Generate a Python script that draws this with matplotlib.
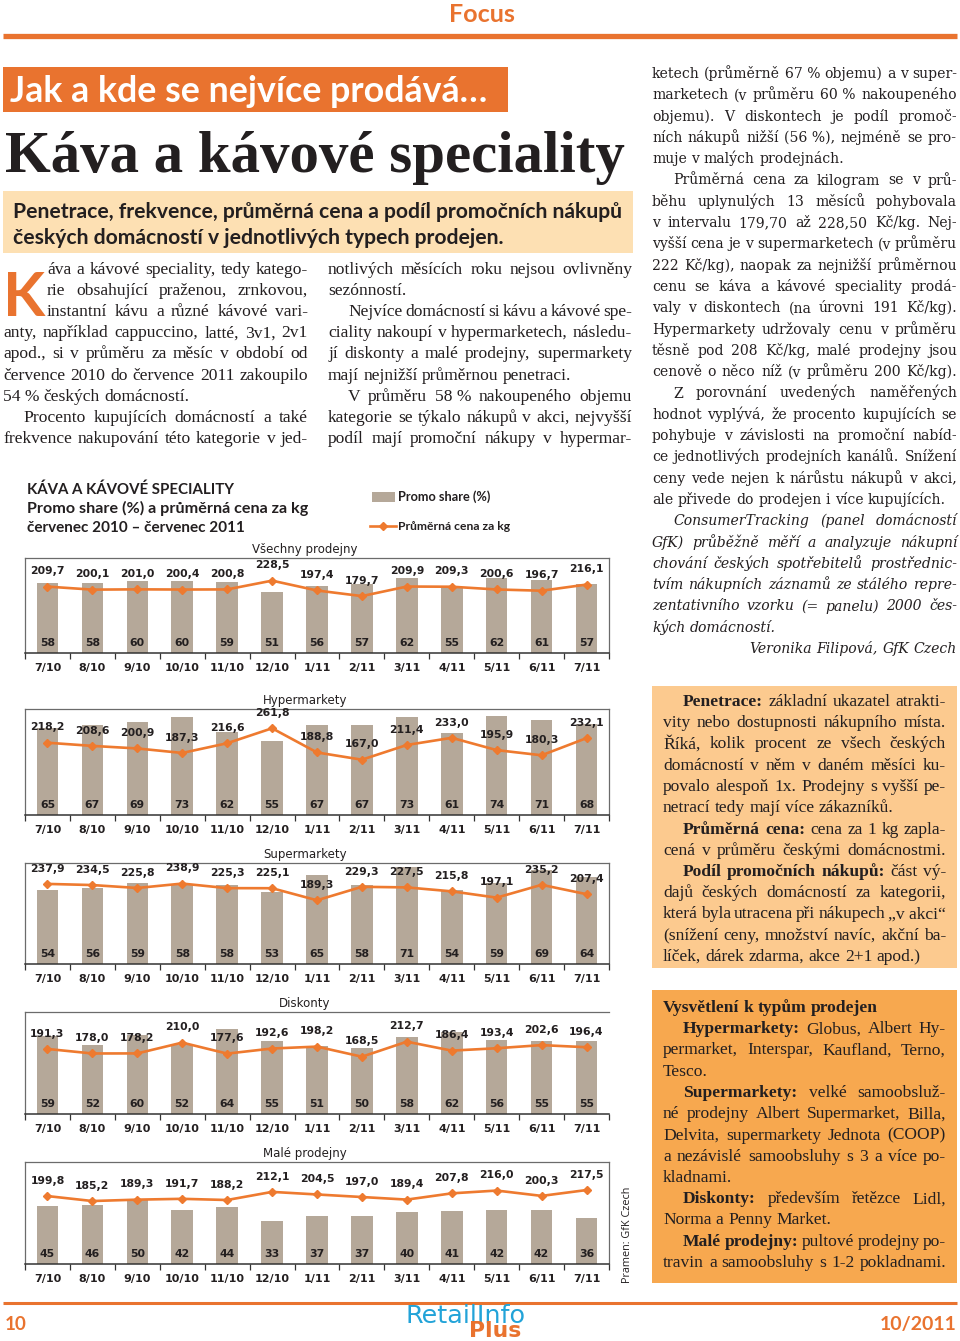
import matplotlib
matplotlib.use('Agg')
import matplotlib.pyplot as plt
from matplotlib.patches import Rectangle
from matplotlib.lines import Line2D
import numpy as np

# ---------------- data ----------------
months = ['7/10', '8/10', '9/10', '10/10', '11/10', '12/10', '1/11',
          '2/11', '3/11', '4/11', '5/11', '6/11', '7/11']

all_promo = [58, 58, 60, 60, 59, 51, 56, 57, 62, 55, 62, 61, 57]
all_price = [209.7, 200.1, 201.0, 200.4, 200.8, 228.5, 197.4, 179.7, 209.9, 209.3, 200.6, 196.7, 216.1]

hyper_promo = [65, 67, 69, 73, 62, 55, 67, 67, 73, 61, 74, 71, 68]
hyper_price = [218.2, 208.6, 200.9, 187.3, 216.6, 261.8, 188.8, 167.0, 211.4, 233.0, 195.9, 180.3, 232.1]

super_promo = [54, 56, 59, 58, 58, 53, 65, 58, 71, 54, 59, 69, 64]
super_price = [237.9, 234.5, 225.8, 238.9, 225.3, 225.1, 189.3, 229.3, 227.5, 215.8, 197.1, 235.2, 207.4]

disk_promo = [59, 52, 60, 52, 64, 55, 51, 50, 58, 62, 56, 55, 55]
disk_price = [191.3, 178.0, 178.2, 210.0, 177.6, 192.6, 198.2, 168.5, 212.7, 186.4, 193.4, 202.6, 196.4]

male_promo = [45, 46, 50, 42, 44, 33, 37, 37, 40, 41, 42, 42, 36]
male_price = [199.8, 185.2, 189.3, 191.7, 188.2, 212.1, 204.5, 197.0, 189.4, 207.8, 216.0, 200.3, 217.5]

chart_titles = ['Všechny prodejny', 'Hypermarkety', 'Supermarkety', 'Diskonty', 'Malé prodejny']
legend_labels = ['Promo share (%)', 'Průměrná cena za kg']

# ---------------- setup ----------------
W, H = 960, 1341
fig = plt.figure(figsize=(W / 100, H / 100), dpi=100)
fig.patch.set_facecolor('white')
R = fig.canvas.get_renderer()

ORANGE = '#e9732f'
LINE_OR = '#ee7a2f'
BAR = '#b5a899'
TXT = '#231f20'
SERIF = 'Liberation Serif'
SERIF2 = 'DejaVu Serif'
SANS = 'Lato'
NARROW = ['Liberation Sans Narrow', 'Lato']


def T(x, y, s, **kw):
    kw.setdefault('va', 'baseline')
    return fig.text(x / W, 1 - y / H, s, **kw)


def wid(t):
    return t.get_window_extent(renderer=R).width


def fit(x, y, s, target, size0=20, **kw):
    t = T(x, y, s, fontsize=size0, **kw)
    t.set_fontsize(size0 * target / wid(t))
    return t


def rect(x0, y0, x1, y1, color):
    fig.add_artist(Rectangle((x0 / W, 1 - y1 / H), (x1 - x0) / W, (y1 - y0) / H,
                             transform=fig.transFigure, facecolor=color,
                             edgecolor='none', zorder=0))


def hline(x0, x1, y, lw, color, **kw):
    fig.add_artist(Line2D([x0 / W, x1 / W], [1 - y / H] * 2, transform=fig.transFigure,
                          color=color, lw=lw, **kw))


def prep(segs):
    if isinstance(segs, str):
        segs = [(segs, 'normal')]
    words = []
    for s, wgt in segs:
        for w in s.split(' '):
            if w:
                words.append((w, wgt))
    return words


def space_w(size, family, style):
    a = T(0, 0, 'a a', fontsize=size, family=family, fontstyle=style)
    b = T(0, 0, 'aa', fontsize=size, family=family, fontstyle=style)
    s = wid(a) - wid(b)
    a.remove(); b.remove()
    return s


def unpack(ln):
    segs, off, just = ln[0], ln[1], ln[2]
    style = ln[3] if len(ln) > 3 else 'normal'
    return segs, off, just, style


def layout(x0, x1, y, segs, size, family, justify, style='normal', color=TXT, min_gap=0.7):
    words = prep(segs)
    objs = [T(x0, y, w, fontsize=size, family=family, fontweight=wgt,
              fontstyle=style, color=color) for w, wgt in words]
    ws = [wid(o) for o in objs]
    space = space_w(size, family, style)
    n = len(objs)
    avail = x1 - x0
    if justify is True and n > 1:
        need = sum(ws) + min_gap * space * (n - 1)
        if need > avail:
            f = avail / need
            for o in objs:
                o.set_fontsize(size * f)
            ws = [w * f for w in ws]
            space *= f
        gap = (avail - sum(ws)) / (n - 1)
    else:
        gap = space
    x = x0
    if justify == 'right':
        x = x1 - (sum(ws) + gap * (n - 1))
    for o, w in zip(objs, ws):
        o.set_x(x / W)
        x += w + gap


def block(lines, x0, x1, y0, dy, size, family):
    for i, ln in enumerate(lines):
        segs, off, just, style = unpack(ln)
        layout(x0 + off, x1, y0 + i * dy, segs, size, family, just, style)


# ---------------- header ----------------
fit(482, 22, 'Focus', 66, ha='center', family=SANS, fontweight='bold', color=ORANGE)
hline(3, 957, 36, 3.8, ORANGE, solid_capstyle='butt')

rect(3, 67, 508, 112, ORANGE)
fit(10, 102, 'Jak a kde se nejvíce prodává…', 477, family=SANS, fontweight='bold', color='white')

fit(5, 172, 'Káva a kávové speciality', 620, family=SERIF, fontweight='bold', color=TXT)

rect(3, 191, 633, 253, '#fde0b3')
t1 = fit(13, 218, 'Penetrace, frekvence, průměrná cena a podíl promočních nákupů', 609,
         family=SANS, fontweight='bold', color=TXT)
T(13, 244, 'českých domácností v jednotlivých typech prodejen.', fontsize=t1.get_fontsize(),
  family=SANS, fontweight='bold', color=TXT)

# ---------------- body text ----------------
fit(3, 316, 'K', 42, family=NARROW, fontweight='bold', color=ORANGE)

col1 = [
    ("áva a kávové speciality, tedy katego-", 44, True),
    ("rie obsahující praženou, zrnkovou,", 44, True),
    ("instantní kávu a různé kávové vari-", 44, True),
    ("anty, například cappuccino, latté, 3v1, 2v1", 0, True),
    ("apod., si v průměru za měsíc v období od", 0, True),
    ("července 2010 do července 2011 zakoupilo", 0, True),
    ("54\u00a0% českých domácností.", 0, False),
    ("Procento kupujících domácností a také", 20, True),
    ("frekvence nakupování této kategorie v jed-", 0, True),
]
col2 = [
    ("notlivých měsících roku nejsou ovlivněny", 0, True),
    ("sezónností.", 0, False),
    ("Nejvíce domácností si kávu a kávové spe-", 20, True),
    ("ciality nakoupí v hypermarketech, následu-", 0, True),
    ("jí diskonty a malé prodejny, supermarkety", 0, True),
    ("mají nejnižší průměrnou penetraci.", 0, False),
    ("V průměru 58\u00a0% nakoupeného objemu", 20, True),
    ("kategorie se týkalo nákupů v akci, nejvyšší", 0, True),
    ("podíl mají promoční nákupy v hypermar-", 0, True),
]
block(col1, 3, 308, 274, 21.1, 12.6, SERIF)
block(col2, 328, 632, 274, 21.1, 12.6, SERIF)

col3 = [
    ("ketech (průměrně 67\u00a0% objemu) a v super-", 0, True),
    ("marketech (v průměru 60\u00a0% nakoupeného", 0, True),
    ("objemu). V diskontech je podíl promoč-", 0, True),
    ("ních nákupů nižší (56\u00a0%), nejméně se pro-", 0, True),
    ("muje v malých prodejnách.", 0, False),
    ("Průměrná cena za kilogram se v prů-", 21, True),
    ("běhu uplynulých 13 měsíců pohybovala", 0, True),
    ("v intervalu 179,70 až 228,50 Kč/kg. Nej-", 0, True),
    ("vyšší cena je v supermarketech (v průměru", 0, True),
    ("222 Kč/kg), naopak za nejnižší průměrnou", 0, True),
    ("cenu se káva a kávové speciality prodá-", 0, True),
    ("valy v diskontech (na úrovni 191 Kč/kg).", 0, True),
    ("Hypermarkety udržovaly cenu v průměru", 0, True),
    ("těsně pod 208 Kč/kg, malé prodejny jsou", 0, True),
    ("cenově o něco níž (v průměru 200 Kč/kg).", 0, True),
    ("Z porovnání uvedených naměřených", 21, True),
    ("hodnot vyplývá, že procento kupujících se", 0, True),
    ("pohybuje v závislosti na promoční nabíd-", 0, True),
    ("ce jednotlivých prodejních kanálů. Snížení", 0, True),
    ("ceny vede nejen k nárůstu nákupů v akci,", 0, True),
    ("ale přivede do prodejen i více kupujících.", 0, False),
    ("ConsumerTracking (panel domácností", 21, True, 'italic'),
    ("GfK) průběžně měří a analyzuje nákupní", 0, True, 'italic'),
    ("chování českých spotřebitelů prostřednic-", 0, True, 'italic'),
    ("tvím nákupních záznamů ze stálého repre-", 0, True, 'italic'),
    ("zentativního vzorku (= panelu) 2000 čes-", 0, True, 'italic'),
    ("kých domácností.", 0, False, 'italic'),
    ("Veronika Filipová, GfK Czech", 0, 'right', 'italic'),
]
block(col3, 652, 957, 78, 21.3, 10.1, SERIF2)

# boxes
rect(652, 686, 957, 968, '#fcca8f')
box1 = [
    ([("Penetrace:", 'bold'), ("základní ukazatel atrakti-", 'normal')], 20, True),
    ("vity nebo dostupnosti nákupního místa.", 0, True),
    ("Říká, kolik procent ze všech českých", 0, True),
    ("domácností v něm v daném měsíci ku-", 0, True),
    ("povalo alespoň 1x. Prodejny s vyšší pe-", 0, True),
    ("netrací tedy mají více zákazníků.", 0, False),
    ([("Průměrná cena:", 'bold'), ("cena za 1 kg zapla-", 'normal')], 20, True),
    ("cená v průměru českými domácnostmi.", 0, True),
    ([("Podíl promočních nákupů:", 'bold'), ("část vý-", 'normal')], 20, True),
    ("dajů českých domácností za kategorii,", 0, True),
    ("která byla utracena při nákupech „v\u00a0akci“", 0, True),
    ("(snížení ceny, množství navíc, akční ba-", 0, True),
    ("líček, dárek zdarma, akce 2+1 apod.)", 0, False),
]
rect(652, 990, 957, 1283, '#f7a84f')
box2 = [
    ([("Vysvětlení k typům prodejen", 'bold')], 0, False),
    ([("Hypermarkety:", 'bold'), ("Globus, Albert Hy-", 'normal')], 20, True),
    ("permarket, Interspar, Kaufland, Terno,", 0, True),
    ("Tesco.", 0, False),
    ([("Supermarkety:", 'bold'), ("velké samoobsluž-", 'normal')], 20, True),
    ("né prodejny Albert Supermarket, Billa,", 0, True),
    ("Delvita, supermarkety Jednota (COOP)", 0, True),
    ("a nezávislé samoobsluhy s 3 a více po-", 0, True),
    ("kladnami.", 0, False),
    ([("Diskonty:", 'bold'), ("především řetězce Lidl,", 'normal')], 20, True),
    ("Norma a Penny Market.", 0, False),
    ([("Malé prodejny:", 'bold'), ("pultové prodejny po-", 'normal')], 20, True),
    ("travin a samoobsluhy s 1-2 pokladnami.", 0, True),
]
block(box1, 663, 946, 706, 21.25, 12.6, SERIF)
block(box2, 663, 946, 1012, 21.25, 12.6, SERIF)

# ---------------- chart header ----------------
fit(27, 494, 'KÁVA A KÁVOVÉ SPECIALITY', 208, family=SANS, fontweight='bold', color=TXT)
fit(27, 513, 'Promo share (%) a průměrná cena za kg', 280, family=SANS, fontweight='bold', color=TXT)
fit(27, 532, 'červenec 2010 – červenec 2011', 218, family=SANS, fontweight='bold', color=TXT)

rect(372, 492, 395, 502, BAR)
fit(398, 501, legend_labels[0], 92, family=NARROW, fontweight='bold', color=TXT)
fig.add_artist(Line2D([370 / W, 396 / W], [1 - 526 / H] * 2, transform=fig.transFigure,
                      color=LINE_OR, lw=1.9))
fig.add_artist(Line2D([383 / W], [1 - 526 / H], transform=fig.transFigure,
                      color=LINE_OR, marker='D', ms=4.2))
fit(398, 530, legend_labels[1], 112, family=NARROW, fontweight='bold', color=TXT)


# ---------------- charts ----------------
def chart(top, bottom, title, promo, price, qmax, pmax, right=True):
    left, rgt = 25, 609
    ax = fig.add_axes([left / W, 1 - bottom / H, (rgt - left) / W, (bottom - top) / H])
    x = np.arange(len(months))
    ax.bar(x, promo, width=0.48, color=BAR, zorder=1)
    ax.set_xlim(-0.5, len(months) - 0.5)
    ax.set_ylim(0, qmax)
    ax.set_yticks([])
    ax.set_xticks(x)
    ax.set_xticklabels(months, fontsize=8, fontweight='bold', color=TXT, family='DejaVu Sans')
    ax.tick_params(axis='x', which='major', length=0, pad=7)
    ax.set_xticks(np.arange(-0.5, len(months)), minor=True)
    ax.tick_params(axis='x', which='minor', length=4.5, width=0.9, color='#333333',
                   direction='out')
    for s in ['top', 'left', 'right']:
        ax.spines[s].set_color('#6b6b6b')
        ax.spines[s].set_linewidth(0.9)
    ax.spines['bottom'].set_color('#333333')
    ax.spines['bottom'].set_linewidth(1.1)
    if not right:
        ax.spines['right'].set_visible(False)
    for xi, v in zip(x, promo):
        ax.annotate(f'{v}', (xi, 0), xytext=(0, 7.5), textcoords='offset points',
                    ha='center', va='center', fontsize=7.8, fontweight='bold', color=TXT)
    ax2 = ax.twinx()
    ax2.plot(x, price, color=LINE_OR, lw=1.9, marker='D', ms=4.2, zorder=3)
    ax2.set_ylim(0, pmax)
    ax2.set_yticks([])
    for s in ax2.spines.values():
        s.set_visible(False)
    for xi, v in zip(x, price):
        ax2.annotate(f'{v:.1f}'.replace('.', ','), (xi, v), xytext=(0, 11),
                     textcoords='offset points', ha='center', va='center',
                     fontsize=7.8, fontweight='bold', color=TXT, annotation_clip=False)
    T(305, top - 5, title, fontsize=8.5, ha='center', color=TXT, family='DejaVu Sans')


chart(558, 653, chart_titles[0], all_promo, all_price, 79, 300)
chart(709, 815, chart_titles[1], hyper_promo, hyper_price, 79, 320)
chart(863, 964, chart_titles[2], super_promo, super_price, 74, 300)
chart(1012, 1114, chart_titles[3], disk_promo, disk_price, 77, 300, right=False)
chart(1162, 1264, chart_titles[4], male_promo, male_price, 79, 300)

# source
src = T(627, 1235, 'Pramen: GfK Czech', fontsize=10, ha='center', va='center',
        family='Open Sans', color=TXT)
src.set_fontsize(10 * 97 / wid(src))
src.set_rotation(90)

# ---------------- footer ----------------
hline(3, 957, 1303, 2.2, ORANGE, solid_capstyle='butt')
fit(5, 1330, '10', 22, family=SANS, fontweight='bold', color=ORANGE)
ft = T(957, 1330, '10/2011', fontsize=14, ha='right', family=SANS, fontweight='bold', color=ORANGE)
ft.set_fontsize(14 * 77 / wid(ft))
fit(405, 1323, 'RetailInfo', 120, family='DejaVu Sans', color='#22a3d8')
fit(469, 1337, 'Plus', 52, family='DejaVu Sans', fontweight='bold', color=ORANGE)

fig.savefig('out.png', dpi=100)
